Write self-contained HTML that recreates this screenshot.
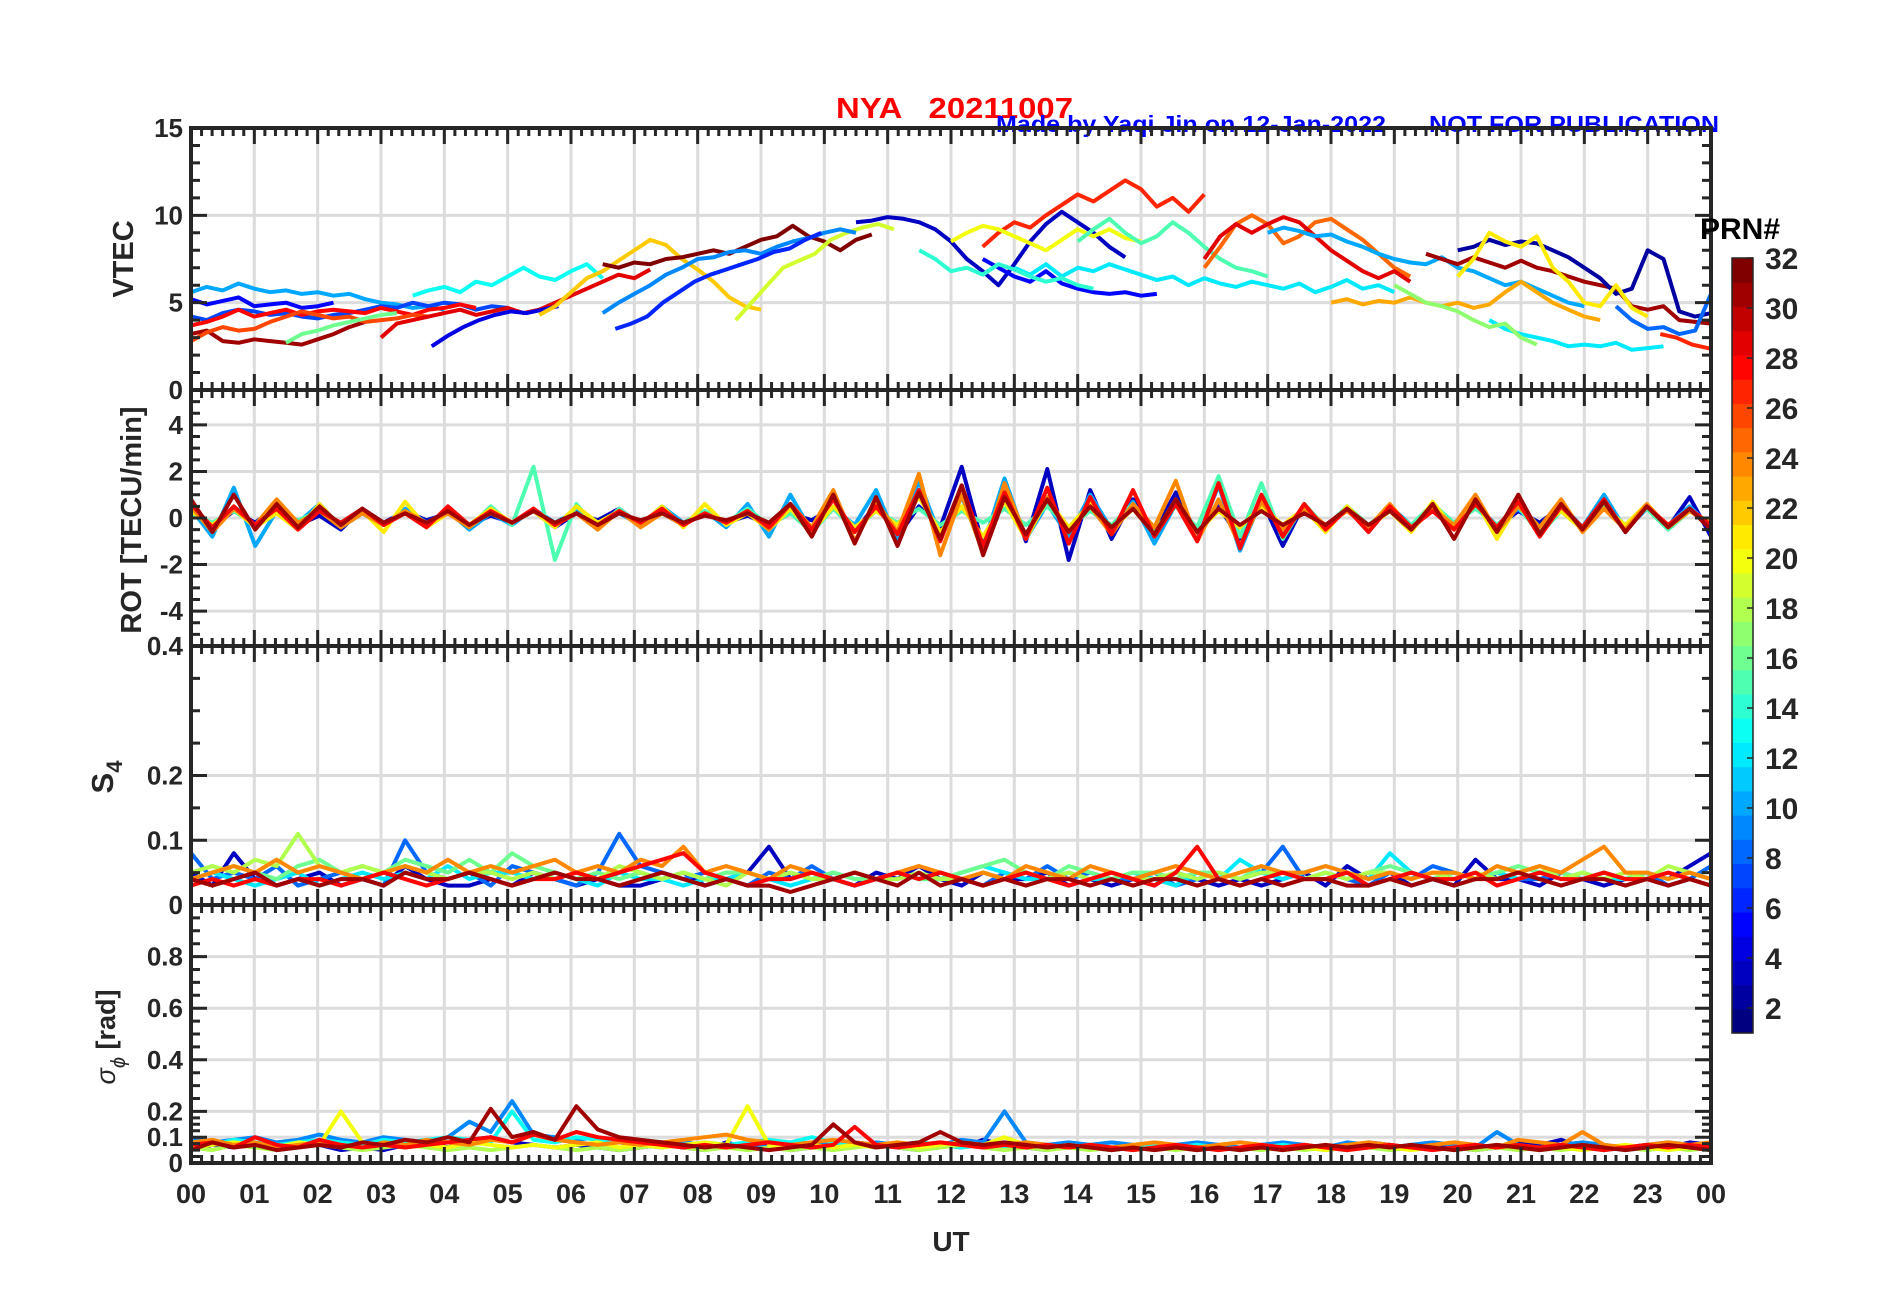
<!DOCTYPE html>
<html><head><meta charset="utf-8"><style>
html,body{margin:0;padding:0;background:#fff;}
svg{display:block;font-family:"Liberation Sans",Arial,sans-serif;font-weight:bold;}
</style></head><body>
<svg id="fig" width="1902" height="1292" viewBox="0 0 1902 1292" xmlns="http://www.w3.org/2000/svg">
<rect x="0" y="0" width="1902" height="1292" fill="#fff"/>
<text x="836" y="118" font-size="29" fill="#ff0000" font-weight="bold" textLength="237" lengthAdjust="spacingAndGlyphs" xml:space="preserve">NYA   20211007</text>
<text x="996" y="132" font-size="23" fill="#0000ff" font-weight="bold" textLength="390" lengthAdjust="spacingAndGlyphs">Made by Yaqi Jin on 12-Jan-2022</text>
<text x="1429" y="132" font-size="23" fill="#0000ff" font-weight="bold" textLength="290" lengthAdjust="spacingAndGlyphs">NOT FOR PUBLICATION</text>
<g id="grids"></g><g id="series"></g><g id="axes"></g>
<text x="951" y="1251" font-size="28" text-anchor="middle" fill="#262626">UT</text>
<text transform="translate(133,259) rotate(-90)" font-size="29" text-anchor="middle" fill="#262626">VTEC</text>
<text transform="translate(141,520) rotate(-90)" font-size="29" text-anchor="middle" fill="#262626">ROT [TECU/min]</text>
<text transform="translate(113,777) rotate(-90)" font-size="31" text-anchor="middle" fill="#262626">S<tspan font-size="22" dy="9">4</tspan></text>
<text transform="translate(115,1037) rotate(-90)" font-size="27" text-anchor="middle" fill="#262626"><tspan font-style="italic" font-weight="normal">σ</tspan><tspan font-size="20" dy="10" font-style="italic" font-weight="normal">ϕ</tspan><tspan dy="-10"> [rad]</tspan></text>
<g id="cbar"></g>
<text x="1700" y="239" font-size="30" fill="#000">PRN#</text>
</svg>
<script>
// ---------- DATA ----------
const hourLabels = ["00","01","02","03","04","05","06","07","08","09","10","11","12","13","14","15","16","17","18","19","20","21","22","23","00"];
const vtecTicks = [0,5,10,15];
const rotTicks = [-4,-2,0,2,4];
const s4Ticks = [0,0.1,0.2,0.4];
const sigTicks = [0,0.1,0.2,0.4,0.6,0.8];
const cbarTicks = [2,4,6,8,10,12,14,16,18,20,22,24,26,28,30,32];

const vtecStep = 0.25;
const vtecPrn = [10,5,7,31,28,26,16,29,13,4,22,32,19,9,6,3,27,20,15,12,5,25,29,10,23,31,2,21,12,27,17,8,14];
const vtecStart = [0,0,0,0,0,0,1.5,3,3.5,3.8,5.5,6.5,8.6,6.5,6.7,10.5,12.5,12,14,13,12.5,16,16,17,18,19.5,20,20,20.5,23.2,19,22.5,11.5];
const vtecValues = [
[5.6,5.9,5.7,6.1,5.8,5.6,5.7,5.5,5.6,5.4,5.5,5.2,5.0,4.9,4.7,4.8,4.6],
[5.2,4.9,5.1,5.3,4.8,4.9,5.0,4.7,4.8,5.0],
[4.2,4.0,4.4,4.6,4.5,4.3,4.4,4.2,4.1,4.3,4.4,4.6,4.8,4.7,5.0,4.8,5.0,4.9,4.6,4.8,4.7],
[3.2,3.4,2.8,2.7,2.9,2.8,2.7,2.6,2.9,3.2,3.6,3.9],
[3.7,3.9,4.2,4.6,4.2,4.4,4.6,4.3,4.5,4.6,4.5,4.4,4.7,4.5,4.3,4.6,4.7,4.9,4.7],
[2.8,3.3,3.6,3.4,3.5,3.9,4.2,4.5,4.3,4.1,4.2,3.9,4.0,4.1,4.3,4.2],
[2.7,3.2,3.4,3.7,3.9,4.1,4.3,4.4],
[3.0,3.8,4.0,4.2,4.4,4.6,4.3,4.5,4.7,4.4,4.6,5.0,5.4,5.8,6.2,6.6,6.4,6.9],
[5.4,5.7,5.9,5.6,6.2,6.0,6.5,7.0,6.5,6.3,6.8,7.2,6.4],
[2.5,3.1,3.6,4.0,4.3,4.5,4.4,4.6,4.8],
[4.3,4.8,5.6,6.4,6.8,7.4,8.0,8.6,8.3,7.5,6.9,6.2,5.3,4.8,4.6],
[7.2,7.0,7.3,7.2,7.5,7.6,7.8,8.0,7.8,8.2,8.6,8.8,9.4,8.8,8.5,8.0,8.6,8.9],
[4.0,5.0,6.0,7.0,7.4,7.8,8.6,9.0,9.3,9.5,9.2],
[4.4,5.0,5.5,6.0,6.6,7.0,7.5,7.6,7.9,8.0,7.8,8.2,8.5,8.7,9.0,9.2,9.0],
[3.5,3.8,4.2,5.0,5.6,6.2,6.6,6.9,7.2,7.5,7.9,8.1,8.6,9.0],
[9.6,9.7,9.9,9.8,9.6,9.2,8.5,7.5,6.8,6.0,7.2,8.5,9.5,10.2,9.6,9.0,8.2,7.6],
[8.2,9.0,9.6,9.3,10.0,10.6,11.2,10.8,11.4,12.0,11.5,10.5,11.0,10.2,11.2],
[8.5,9.0,9.4,9.2,8.8,8.4,8.0,8.6,9.2,8.8,9.2,8.7,8.5],
[8.5,9.2,9.8,9.0,8.4,8.8,9.6,9.0,8.2,7.5,7.0,6.8,6.5],
[7.0,6.6,7.2,6.5,7.0,6.8,7.2,6.9,6.6,6.3,6.5,6.0,6.4,6.1,5.9,6.2,6.0,5.8,6.1,5.6,5.9,6.3,5.8,6.0,5.6],
[7.5,7.0,6.5,6.2,6.8,6.1,5.8,5.6,5.5,5.6,5.4,5.5],
[7.0,8.2,9.5,10.0,9.5,8.4,8.8,9.6,9.8,9.2,8.6,7.8,7.0,6.5],
[7.5,8.8,9.5,9.0,9.5,9.9,9.6,8.8,8.0,7.4,6.8,6.4,6.8,6.2],
[9.0,9.3,9.1,8.8,8.9,8.5,8.2,7.8,7.5,7.3,7.2,7.6,7.0,6.8,6.4,6.0,6.2,5.8,5.4,5.0,4.8],
[5.0,5.2,4.9,5.1,5.0,5.3,5.0,4.8,5.0,4.7,4.9,5.6,6.2,5.6,5.0,4.6,4.2,4.0],
[7.8,7.5,7.2,7.6,7.3,7.0,7.4,7.0,6.8,6.5,6.2,6.0,5.8,4.8,4.6,4.8,4.0,3.9,3.8,3.6,3.3,3.1],
[8.0,8.2,8.6,8.3,8.5,8.4,8.0,7.6,7.0,6.4,5.5,5.8,8.0,7.5,4.5,4.2,4.4],
[6.5,7.5,9.0,8.5,8.2,8.8,7.0,6.2,5.0,4.8,6.0,4.7,4.2],
[4.0,3.5,3.2,3.0,2.8,2.5,2.6,2.5,2.7,2.3,2.4,2.5],
[3.2,3.0,2.6,2.4,2.3,2.2,2.0],
[6.0,5.5,5.0,4.8,4.5,4.0,3.6,3.8,3.0,2.6],
[4.8,4.0,3.5,3.6,3.2,3.4,5.5,5.8,5.2,3.8],
[8.0,7.5,6.8,7.0,6.6,7.2,6.9,6.5,6.2,6.4,6.0,5.8]
];

const rotPrn = [3,10,15,21,24,28,31];
const rotValues = [
[0.2,-0.4,0.3,-0.2,0.5,-0.3,0.1,-0.5,0.4,-0.2,0.3,-0.1,0.2,-0.3,0.1,-0.2,0.3,-0.4,0.2,-0.1,0.4,-0.3,0.2,-0.3,0.3,-0.2,0.1,-0.3,0.2,-0.1,0.5,-0.6,0.6,-0.8,0.5,-0.4,2.2,-1.2,1.5,-1.0,2.1,-1.8,1.2,-0.9,0.8,-0.6,1.1,-0.7,0.5,-0.9,0.8,-1.2,0.6,-0.5,0.4,-0.3,0.3,-0.4,0.5,-0.3,0.6,-0.4,0.3,-0.2,0.5,-0.4,0.8,-0.6,0.5,-0.4,0.9,-0.8],
[0.4,-0.8,1.3,-1.2,0.3,-0.2,0.6,-0.4,0.2,-0.3,0.4,-0.2,0.3,-0.5,0.2,-0.3,0.4,-0.2,0.3,-0.2,0.2,-0.3,0.5,-0.2,0.3,-0.4,0.6,-0.8,1.0,-0.6,0.4,-0.3,1.2,-1.0,1.6,-0.8,0.9,-1.2,1.7,-0.9,0.6,-0.8,1.0,-0.5,0.7,-1.1,0.6,-0.9,1.4,-1.4,0.8,-0.6,0.5,-0.4,0.4,-0.6,0.5,-0.3,0.4,-0.2,0.5,-0.3,0.4,-0.5,0.6,-0.4,1.0,-0.5,0.4,-0.3,0.5,-0.4],
[0.2,-0.2,0.3,-0.3,0.2,-0.1,0.3,-0.2,0.4,-0.3,0.2,-0.2,0.3,-0.4,0.5,-0.3,2.2,-1.8,0.6,-0.5,0.4,-0.3,0.2,-0.2,0.3,-0.2,0.4,-0.3,0.2,-0.6,0.4,-0.5,0.3,-0.2,0.4,-0.3,0.3,-0.2,0.4,-0.3,0.5,-0.4,0.3,-0.3,0.6,-0.5,0.5,-0.4,1.8,-0.8,1.5,-0.9,0.6,-0.4,0.5,-0.3,0.4,-0.3,0.6,-0.2,0.4,-0.3,0.5,-0.7,0.3,-0.4,0.5,-0.3,0.4,-0.5,0.3,-0.2],
[0.3,-0.3,0.4,-0.4,0.2,-0.5,0.6,-0.4,0.3,-0.6,0.7,-0.4,0.2,-0.3,0.4,-0.2,0.3,-0.4,0.5,-0.2,0.3,-0.3,0.5,-0.4,0.6,-0.3,0.2,-0.5,0.4,-0.6,0.5,-0.4,0.3,-0.3,0.9,-0.6,0.5,-0.8,0.7,-0.9,0.8,-0.4,0.6,-0.5,0.4,-0.7,0.8,-0.6,0.3,-0.4,0.5,-0.3,0.4,-0.6,0.5,-0.4,0.3,-0.6,0.7,-0.5,0.8,-0.9,0.6,-0.4,0.3,-0.5,0.4,-0.3,0.6,-0.4,0.3,-0.2],
[0.5,-0.6,0.4,-0.3,0.8,-0.2,0.3,-0.4,0.2,-0.3,0.3,-0.2,0.2,-0.4,0.3,-0.2,0.4,-0.3,0.2,-0.5,0.3,-0.4,0.2,-0.3,0.2,-0.2,0.3,-0.5,0.6,-0.4,1.2,-1.0,0.7,-0.6,1.9,-1.6,1.0,-1.5,1.5,-0.8,0.9,-0.6,0.5,-0.7,0.6,-0.4,1.6,-1.0,0.8,-1.2,0.7,-0.5,0.4,-0.3,0.3,-0.4,0.6,-0.5,0.4,-0.3,1.0,-0.6,0.5,-0.4,0.8,-0.6,0.4,-0.5,0.6,-0.4,0.3,-0.3],
[0.6,-0.4,0.5,-0.3,0.4,-0.5,0.3,-0.2,0.4,-0.3,0.2,-0.4,0.5,-0.3,0.3,-0.2,0.4,-0.3,0.2,-0.3,0.3,-0.2,0.4,-0.3,0.2,-0.2,0.3,-0.4,0.6,-0.5,0.8,-0.6,0.5,-0.7,1.2,-1.0,1.4,-1.2,1.1,-0.9,1.3,-1.1,0.9,-0.7,1.2,-0.8,0.6,-1.0,1.5,-1.3,1.0,-0.8,0.6,-0.5,0.4,-0.6,0.5,-0.4,0.3,-0.5,0.6,-0.4,0.7,-0.8,0.5,-0.4,0.8,-0.6,0.5,-0.3,0.4,-0.3],
[0.8,-0.6,1.0,-0.5,0.6,-0.4,0.5,-0.3,0.4,-0.2,0.2,-0.2,0.3,-0.3,0.2,-0.2,0.3,-0.2,0.2,-0.3,0.2,-0.1,0.2,-0.2,0.1,-0.1,0.2,-0.2,0.6,-0.8,1.0,-1.1,0.9,-1.2,1.1,-0.9,1.4,-1.6,0.9,-0.7,0.8,-0.6,0.5,-0.4,0.4,-0.7,0.8,-0.6,0.4,-0.3,0.3,-0.3,0.2,-0.3,0.4,-0.3,0.3,-0.5,0.6,-0.9,0.8,-0.6,1.0,-0.7,0.6,-0.5,0.7,-0.6,0.5,-0.4,0.4,-0.5]
];

const s4Prn = [3,8,12,16,18,24,28,31];
const s4Values = [
[0.05,0.03,0.08,0.04,0.03,0.04,0.05,0.03,0.04,0.03,0.06,0.04,0.03,0.03,0.04,0.03,0.05,0.04,0.03,0.04,0.03,0.03,0.04,0.05,0.03,0.04,0.05,0.09,0.04,0.05,0.04,0.03,0.05,0.04,0.06,0.04,0.03,0.05,0.04,0.04,0.05,0.03,0.04,0.03,0.04,0.03,0.05,0.04,0.03,0.04,0.03,0.04,0.05,0.03,0.06,0.04,0.05,0.03,0.04,0.03,0.07,0.04,0.04,0.03,0.05,0.04,0.03,0.04,0.05,0.04,0.06,0.08],
[0.08,0.04,0.05,0.04,0.06,0.03,0.04,0.05,0.04,0.03,0.10,0.05,0.04,0.05,0.03,0.06,0.05,0.04,0.03,0.05,0.11,0.06,0.05,0.04,0.05,0.04,0.03,0.05,0.04,0.06,0.04,0.03,0.04,0.05,0.04,0.05,0.04,0.03,0.05,0.04,0.06,0.04,0.05,0.04,0.04,0.05,0.03,0.04,0.05,0.04,0.05,0.09,0.04,0.05,0.04,0.03,0.05,0.04,0.06,0.05,0.04,0.05,0.04,0.04,0.05,0.04,0.05,0.04,0.05,0.03,0.04,0.06],
[0.04,0.05,0.04,0.03,0.04,0.05,0.03,0.04,0.05,0.04,0.05,0.04,0.06,0.04,0.05,0.05,0.04,0.05,0.04,0.03,0.05,0.04,0.04,0.03,0.04,0.04,0.05,0.04,0.03,0.04,0.05,0.04,0.04,0.05,0.04,0.04,0.05,0.06,0.05,0.04,0.04,0.05,0.04,0.04,0.05,0.04,0.03,0.05,0.04,0.07,0.05,0.04,0.05,0.06,0.05,0.04,0.08,0.05,0.04,0.05,0.04,0.05,0.04,0.05,0.04,0.05,0.04,0.04,0.05,0.04,0.05,0.04],
[0.04,0.05,0.06,0.05,0.04,0.06,0.07,0.05,0.06,0.05,0.07,0.06,0.05,0.07,0.05,0.08,0.06,0.05,0.04,0.05,0.04,0.05,0.04,0.05,0.04,0.05,0.05,0.04,0.05,0.04,0.05,0.04,0.04,0.05,0.04,0.04,0.05,0.06,0.07,0.05,0.04,0.06,0.05,0.04,0.05,0.05,0.04,0.05,0.05,0.04,0.06,0.05,0.04,0.05,0.04,0.05,0.06,0.05,0.04,0.05,0.04,0.05,0.06,0.05,0.05,0.04,0.05,0.04,0.05,0.04,0.05,0.04],
[0.05,0.06,0.05,0.07,0.06,0.11,0.06,0.05,0.06,0.05,0.06,0.05,0.04,0.05,0.05,0.04,0.05,0.04,0.05,0.04,0.06,0.05,0.04,0.05,0.04,0.03,0.05,0.04,0.05,0.04,0.04,0.05,0.04,0.04,0.05,0.04,0.04,0.05,0.04,0.05,0.04,0.05,0.04,0.05,0.04,0.04,0.05,0.04,0.05,0.04,0.05,0.05,0.04,0.05,0.04,0.05,0.05,0.04,0.05,0.04,0.05,0.04,0.05,0.06,0.04,0.05,0.04,0.05,0.04,0.06,0.05,0.04],
[0.04,0.05,0.06,0.05,0.07,0.05,0.06,0.05,0.04,0.05,0.06,0.05,0.07,0.05,0.06,0.05,0.06,0.07,0.05,0.06,0.05,0.07,0.06,0.09,0.05,0.06,0.05,0.04,0.06,0.05,0.04,0.05,0.04,0.05,0.06,0.05,0.04,0.05,0.04,0.06,0.05,0.04,0.06,0.05,0.04,0.05,0.06,0.05,0.04,0.05,0.06,0.05,0.05,0.06,0.05,0.04,0.05,0.04,0.05,0.05,0.04,0.06,0.05,0.06,0.05,0.07,0.09,0.05,0.05,0.04,0.05,0.04],
[0.03,0.04,0.03,0.04,0.03,0.04,0.04,0.03,0.04,0.05,0.04,0.03,0.04,0.05,0.04,0.03,0.04,0.04,0.05,0.04,0.05,0.06,0.07,0.08,0.05,0.04,0.03,0.04,0.04,0.05,0.04,0.03,0.04,0.05,0.04,0.05,0.04,0.03,0.04,0.05,0.04,0.03,0.04,0.05,0.04,0.03,0.05,0.09,0.04,0.03,0.04,0.05,0.04,0.04,0.05,0.03,0.04,0.05,0.04,0.04,0.05,0.03,0.04,0.05,0.04,0.04,0.05,0.04,0.04,0.05,0.04,0.03],
[0.04,0.03,0.04,0.05,0.03,0.04,0.03,0.04,0.04,0.03,0.05,0.04,0.04,0.05,0.04,0.03,0.04,0.05,0.04,0.04,0.03,0.04,0.05,0.04,0.03,0.04,0.03,0.03,0.02,0.03,0.04,0.05,0.04,0.03,0.05,0.03,0.04,0.03,0.04,0.03,0.04,0.04,0.03,0.04,0.03,0.04,0.04,0.03,0.04,0.03,0.04,0.03,0.04,0.04,0.03,0.03,0.04,0.03,0.04,0.03,0.04,0.04,0.05,0.04,0.03,0.04,0.04,0.03,0.04,0.03,0.04,0.03]
];

const sigPrn = [3,9,13,18,20,24,28,31];
const sigValues = [
[0.05,0.07,0.06,0.08,0.05,0.06,0.07,0.05,0.06,0.05,0.07,0.08,0.06,0.09,0.10,0.08,0.07,0.06,0.07,0.06,0.05,0.06,0.07,0.06,0.05,0.08,0.06,0.07,0.05,0.06,0.07,0.08,0.07,0.06,0.05,0.07,0.06,0.09,0.07,0.06,0.05,0.07,0.06,0.05,0.06,0.07,0.06,0.05,0.06,0.05,0.06,0.05,0.07,0.06,0.05,0.08,0.07,0.06,0.07,0.06,0.05,0.06,0.08,0.07,0.09,0.06,0.05,0.06,0.07,0.06,0.08,0.07],
[0.10,0.08,0.09,0.10,0.08,0.09,0.11,0.09,0.08,0.10,0.09,0.08,0.10,0.16,0.12,0.24,0.11,0.10,0.09,0.10,0.08,0.07,0.06,0.08,0.07,0.06,0.07,0.06,0.07,0.08,0.07,0.06,0.08,0.07,0.08,0.07,0.09,0.08,0.20,0.08,0.07,0.08,0.07,0.08,0.07,0.06,0.07,0.08,0.07,0.06,0.07,0.08,0.07,0.06,0.08,0.07,0.06,0.07,0.08,0.07,0.06,0.12,0.07,0.06,0.07,0.08,0.07,0.06,0.07,0.08,0.07,0.06],
[0.08,0.07,0.09,0.08,0.07,0.08,0.09,0.08,0.07,0.09,0.08,0.09,0.10,0.09,0.08,0.20,0.09,0.08,0.10,0.09,0.08,0.09,0.08,0.07,0.08,0.07,0.08,0.09,0.08,0.10,0.08,0.07,0.06,0.07,0.08,0.07,0.06,0.07,0.06,0.07,0.06,0.07,0.06,0.05,0.06,0.07,0.06,0.07,0.06,0.05,0.06,0.07,0.06,0.05,0.06,0.07,0.06,0.07,0.06,0.05,0.06,0.07,0.06,0.05,0.06,0.07,0.06,0.05,0.06,0.05,0.06,0.05],
[0.06,0.05,0.07,0.06,0.05,0.06,0.07,0.06,0.05,0.06,0.07,0.06,0.05,0.06,0.05,0.06,0.07,0.06,0.05,0.06,0.05,0.06,0.07,0.06,0.05,0.06,0.05,0.06,0.05,0.06,0.05,0.06,0.07,0.06,0.05,0.06,0.07,0.06,0.05,0.06,0.05,0.06,0.05,0.06,0.05,0.06,0.05,0.06,0.05,0.06,0.05,0.06,0.05,0.06,0.05,0.06,0.05,0.06,0.05,0.06,0.05,0.06,0.05,0.06,0.05,0.06,0.05,0.06,0.05,0.06,0.05,0.06],
[0.06,0.07,0.08,0.07,0.06,0.08,0.07,0.20,0.08,0.07,0.06,0.07,0.06,0.08,0.07,0.06,0.07,0.06,0.07,0.08,0.06,0.07,0.06,0.07,0.08,0.07,0.22,0.07,0.06,0.07,0.06,0.07,0.06,0.07,0.06,0.07,0.08,0.07,0.10,0.07,0.06,0.07,0.06,0.05,0.06,0.05,0.06,0.05,0.06,0.05,0.06,0.05,0.06,0.05,0.06,0.07,0.06,0.05,0.06,0.05,0.06,0.07,0.06,0.05,0.06,0.05,0.06,0.07,0.06,0.05,0.06,0.05],
[0.08,0.09,0.07,0.08,0.06,0.07,0.08,0.07,0.06,0.08,0.07,0.09,0.08,0.07,0.09,0.08,0.11,0.09,0.08,0.07,0.08,0.07,0.08,0.09,0.10,0.11,0.09,0.08,0.07,0.08,0.09,0.08,0.07,0.08,0.07,0.08,0.07,0.06,0.07,0.08,0.07,0.06,0.07,0.06,0.07,0.08,0.07,0.06,0.07,0.08,0.07,0.06,0.07,0.06,0.07,0.08,0.07,0.06,0.07,0.08,0.07,0.06,0.09,0.08,0.07,0.12,0.07,0.06,0.07,0.08,0.07,0.08],
[0.07,0.08,0.06,0.10,0.07,0.06,0.09,0.07,0.06,0.07,0.06,0.07,0.08,0.09,0.10,0.08,0.11,0.09,0.12,0.10,0.09,0.08,0.07,0.06,0.07,0.06,0.07,0.08,0.07,0.06,0.07,0.14,0.07,0.06,0.07,0.08,0.07,0.06,0.07,0.06,0.07,0.06,0.07,0.06,0.05,0.06,0.07,0.06,0.05,0.06,0.07,0.06,0.07,0.06,0.05,0.06,0.07,0.06,0.05,0.06,0.07,0.06,0.07,0.06,0.07,0.06,0.05,0.06,0.07,0.06,0.07,0.06],
[0.05,0.08,0.06,0.07,0.05,0.06,0.07,0.06,0.08,0.07,0.09,0.08,0.10,0.08,0.21,0.10,0.12,0.09,0.22,0.13,0.10,0.09,0.08,0.07,0.06,0.07,0.06,0.05,0.06,0.07,0.15,0.08,0.06,0.07,0.08,0.12,0.08,0.07,0.08,0.07,0.06,0.07,0.06,0.05,0.06,0.05,0.06,0.05,0.06,0.05,0.06,0.05,0.06,0.07,0.06,0.07,0.06,0.07,0.06,0.05,0.06,0.07,0.06,0.05,0.06,0.07,0.06,0.05,0.06,0.07,0.06,0.05]
];

// ---------- LAYOUT ----------
const NS = "http://www.w3.org/2000/svg";
const X0 = 191, X1 = 1711;
const panels = [
 {name:"vtec", top:128, bot:390, min:0, max:15, ticks:vtecTicks, minor:1},
 {name:"rot", top:390, bot:646, min:-5.5, max:5.5, ticks:rotTicks, minor:0.5},
 {name:"s4", top:646, bot:905, min:0, max:0.4, ticks:s4Ticks, minor:0.05},
 {name:"sigma", top:905, bot:1163, min:0, max:1, ticks:sigTicks, minor:0.05}
];
const xs = h => X0 + (X1 - X0) * h / 24;
const ysFor = p => v => p.bot - (p.bot - p.top) * (v - p.min) / (p.max - p.min);
function jet(prn){
  const v = (prn - 1) / 31;
  const c = x => Math.round(255 * Math.max(0, Math.min(1, x)));
  return `rgb(${c(1.5-Math.abs(4*v-3))},${c(1.5-Math.abs(4*v-2))},${c(1.5-Math.abs(4*v-1))})`;
}
function mk(tag, attrs, parent){
  const e = document.createElementNS(NS, tag);
  for (const k in attrs) e.setAttribute(k, attrs[k]);
  parent.appendChild(e);
  return e;
}
const gGrid = document.getElementById("grids");
const gSer = document.getElementById("series");
const gAx = document.getElementById("axes");
const svg = document.getElementById("fig");

const defs = mk("defs", {}, svg);
panels.forEach((p, i) => {
  const cp = mk("clipPath", {id:"clip"+i}, defs);
  mk("rect", {x:X0, y:p.top, width:X1-X0, height:p.bot-p.top}, cp);
});

panels.forEach(p => {
  const y = ysFor(p);
  for (let h = 1; h < 24; h++) {
    const l = mk("line", {x1:xs(h), x2:xs(h), y1:p.top, y2:p.bot, stroke:"#dcdcdc", "stroke-width":3}, gGrid);
    
    
  }
  p.ticks.forEach(t => {
    if (t === p.min || t === p.max) return;
    const l = mk("line", {x1:X0, x2:X1, y1:y(t), y2:y(t), stroke:"#dcdcdc", "stroke-width":3}, gGrid);
    
    
  });
});

function drawSeries(pi, prns, starts, step, vals, nameBase){
  const p = panels[pi], y = ysFor(p);
  const g = mk("g", {"clip-path":`url(#clip${pi})`}, gSer);
  vals.forEach((arr, k) => {
    const st = starts ? starts[k] : 0;
    const dt = step !== null ? step : 24 / (arr.length - 1);
    const d = arr.map((v, i) => (i ? "L" : "M") + xs(st + i*dt).toFixed(1) + "," + y(v).toFixed(1)).join(" ");
    const path = mk("path", {d:d, fill:"none", stroke:jet(prns[k]), "stroke-width":4, "stroke-linejoin":"round"}, g);
    
    
  });
}
drawSeries(0, vtecPrn, vtecStart, vtecStep, vtecValues, "vtec-line");
drawSeries(1, rotPrn, null, null, rotValues, "rot-line");
drawSeries(2, s4Prn, null, null, s4Values, "s4-line");
drawSeries(3, sigPrn, null, null, sigValues, "sigma-phi-line");

const AX = "#262626";
panels.forEach((p, pi) => {
  const y = ysFor(p);
  const box = mk("rect", {x:X0, y:p.top, width:X1-X0, height:p.bot-p.top, fill:"none", stroke:AX, "stroke-width":4}, gAx);
  
  
  let d = "";
  for (let m = 0; m <= 144; m++) {
    const x = xs(m/6), len = (m % 6 === 0) ? 16 : 8;
    d += `M${x},${p.bot}v${-len}M${x},${p.top}v${len}`;
  }
  const n = Math.round((p.max - p.min) / p.minor);
  for (let j = 0; j <= n; j++) {
    const v = p.min + j*p.minor;
    const major = p.ticks.some(t => Math.abs(t - v) < 1e-6);
    const len = major ? 16 : 9;
    d += `M${X0},${y(v)}h${len}M${X1},${y(v)}h${-len}`;
  }
  if (pi === 3) { for (let v = 0.025; v < 0.2; v += 0.05) d += `M${X0},${y(v)}h9M${X1},${y(v)}h-9`; }
  mk("path", {d:d, stroke:AX, "stroke-width":3, fill:"none"}, gAx);
  p.ticks.forEach(t => {
    const tx = mk("text", {x:X0-8, y:y(t)+9, "font-size":26, "text-anchor":"end", fill:AX}, gAx);
    tx.textContent = String(t);
    
    
  });
});
hourLabels.forEach((lab, h) => {
  const tx = mk("text", {x:xs(h), y:1203, "font-size":27, "text-anchor":"middle", fill:AX}, gAx);
  tx.textContent = lab;
  
  
});

const gC = document.getElementById("cbar");
const CB = {x:1732, w:21, top:258, bot:1033};
const cy = v => CB.bot - (CB.bot - CB.top) * (v - 1) / 31;
const bandH = (CB.bot - CB.top) / 32;
for (let k = 1; k <= 32; k++) {
  const r = mk("rect", {x:CB.x, y:CB.bot - k*bandH, width:CB.w, height:bandH+0.6, fill:jet(k)}, gC);
  
  
}
mk("rect", {x:CB.x, y:CB.top, width:CB.w, height:CB.bot-CB.top, fill:"none", stroke:AX, "stroke-width":1.5}, gC);
cbarTicks.forEach(t => {
  mk("line", {x1:CB.x+CB.w-6, x2:CB.x+CB.w, y1:cy(t), y2:cy(t), stroke:AX, "stroke-width":1.5}, gC);
  const tx = mk("text", {x:1765, y:cy(t)+11, "font-size":30, fill:AX}, gC);
  tx.textContent = String(t);
  
  
});
</script>
</body></html>
